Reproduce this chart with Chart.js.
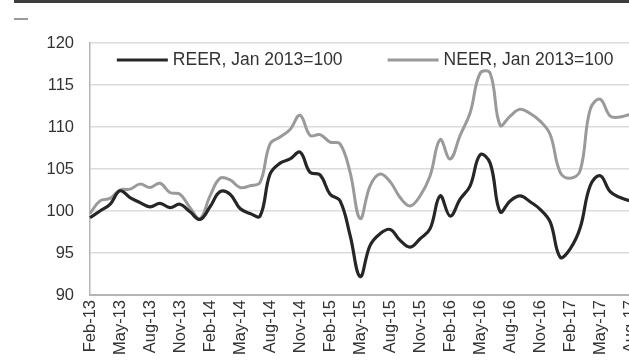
<!DOCTYPE html>
<html>
<head>
<meta charset="utf-8">
<script src="https://cdn.jsdelivr.net/npm/chart.js@4.4.1/dist/chart.umd.min.js"></script>
<style>
  html, body { margin: 0; padding: 0; background: #fff; overflow: hidden; }
  #wrap { position: relative; width: 629px; height: 363px; overflow: hidden; }
  #topRule { position: absolute; left: 14px; top: 0; width: 615px; height: 3px; background: #3d3d3d; }
  #dash { position: absolute; left: 14px; top: 18px; width: 14px; height: 2px; background: #9a9a9a; }
  canvas { position: absolute; left: 0; top: 0; }
</style>
</head>
<body>
<div id="wrap">
  <canvas id="eerChart" width="665" height="363"></canvas>
  <div id="topRule"></div>
  <div id="dash"></div>
</div>
<script>
const months = [
  "Feb-13", "Mar-13", "Apr-13", "May-13", "Jun-13", "Jul-13", "Aug-13", "Sep-13", "Oct-13", "Nov-13", "Dec-13",
  "Jan-14", "Feb-14", "Mar-14", "Apr-14", "May-14", "Jun-14", "Jul-14", "Aug-14", "Sep-14", "Oct-14", "Nov-14", "Dec-14",
  "Jan-15", "Feb-15", "Mar-15", "Apr-15", "May-15", "Jun-15", "Jul-15", "Aug-15", "Sep-15", "Oct-15", "Nov-15", "Dec-15",
  "Jan-16", "Feb-16", "Mar-16", "Apr-16", "May-16", "Jun-16", "Jul-16", "Aug-16", "Sep-16", "Oct-16", "Nov-16", "Dec-16",
  "Jan-17", "Feb-17", "Mar-17", "Apr-17", "May-17", "Jun-17", "Jul-17", "Aug-17", "Sep-17"
];

// real effective exchange rate, Jan 2013 = 100
const reer = [
  99.2, 100.0, 100.8, 102.4, 101.6, 101.0, 100.5, 100.9, 100.4, 100.8, 99.9, 99.0,
  100.5, 102.3, 102.0, 100.3, 99.7, 99.4, 104.4, 105.7, 106.2, 107.0, 104.6, 104.3,
  102.0, 101.2, 97.1, 92.2, 95.9, 97.3, 97.8, 96.5, 95.7, 96.7, 97.9, 101.8,
  99.4, 101.4, 103.0, 106.7, 105.7, 99.9, 101.2, 101.8, 101.1, 100.2, 98.7, 94.5,
  95.5, 98.0, 103.0, 104.2, 102.3, 101.6, 101.2, 101.0
];

// nominal effective exchange rate, Jan 2013 = 100
const neer = [
  99.7, 101.2, 101.5, 102.5, 102.6, 103.2, 102.8, 103.3, 102.2, 102.0, 100.4, 99.1,
  101.8, 103.9, 103.7, 102.8, 103.0, 103.4, 108.0, 108.8, 109.7, 111.4, 109.0, 109.1,
  108.2, 108.0, 104.6, 99.1, 103.0, 104.4, 103.5, 101.6, 100.6, 101.8, 104.2, 108.5,
  106.2, 109.0, 111.7, 116.4, 116.4, 110.2, 111.3, 112.1, 111.6, 110.7, 109.1, 104.6,
  103.9, 104.8, 112.1, 113.3, 111.3, 111.2, 111.5, 111.6
];

const yTicks = [90, 95, 100, 105, 110, 115, 120];

const textColor = "#333333";
const fontFamily = "'Liberation Sans', Arial, sans-serif";

// legend drawn inside the plot area, one row, centred on the plot
const legendInside = {
  id: "legendInside",
  afterDatasetsDraw(chart) {
    const { ctx, chartArea } = chart;
    const sampleLen = 51;
    const sampleGap = 5;
    const itemGap = 45;
    ctx.save();
    ctx.font = "17.5px " + fontFamily;
    ctx.textBaseline = "middle";
    const items = chart.data.datasets.map((ds) => ({
      text: ds.label,
      color: ds.borderColor,
      lineWidth: ds.borderWidth,
      textW: ctx.measureText(ds.label).width,
    }));
    let total = itemGap * (items.length - 1);
    items.forEach((it) => (total += sampleLen + sampleGap + it.textW));
    let x = (chartArea.left + chartArea.right) / 2 - total / 2;
    const y = chartArea.top + 17;
    items.forEach((it) => {
      ctx.strokeStyle = it.color;
      ctx.lineWidth = it.lineWidth;
      ctx.beginPath();
      ctx.moveTo(x, y);
      ctx.lineTo(x + sampleLen, y);
      ctx.stroke();
      ctx.fillStyle = textColor;
      ctx.fillText(it.text, x + sampleLen + sampleGap, y);
      x += sampleLen + sampleGap + it.textW + itemGap;
    });
    ctx.restore();
  },
};

const ctx = document.getElementById("eerChart").getContext("2d");

new Chart(ctx, {
  type: "line",
  data: {
    labels: months,
    datasets: [
      {
        label: "REER, Jan 2013=100",
        data: reer,
        borderColor: "#262626",
        backgroundColor: "#262626",
        borderWidth: 3.2,
        pointRadius: 0,
        tension: 0.4,
        fill: false,
      },
      {
        label: "NEER, Jan 2013=100",
        data: neer,
        borderColor: "#9a9a9a",
        backgroundColor: "#9a9a9a",
        borderWidth: 3,
        pointRadius: 0,
        tension: 0.4,
        fill: false,
      },
    ],
  },
  options: {
    responsive: false,
    animation: false,
    layout: { padding: { top: 43, right: 10, bottom: 0, left: 0 } },
    plugins: {
      legend: { display: false },
      tooltip: { enabled: false },
    },
    scales: {
      x: {
        type: "category",
        offset: false,
        grid: { display: false, drawTicks: false },
        border: { display: true, color: "#b5b5b5", width: 2 },
        ticks: {
          autoSkip: false,
          maxRotation: 90,
          minRotation: 90,
          padding: 5,
          color: textColor,
          font: { family: fontFamily, size: 16.5 },
          callback: function (value, index) {
            return index % 3 === 0 ? months[index] : "";
          },
        },
        afterFit(axis) {
          axis.height = 68;
        },
      },
      y: {
        min: 90,
        max: 120,
        afterBuildTicks(axis) {
          axis.ticks = yTicks.map((v) => ({ value: v }));
        },
        grid: { color: "#dcdcdc", lineWidth: 1.5, drawTicks: false },
        border: { display: true, color: "#b5b5b5", width: 1.5 },
        ticks: {
          padding: 16,
          color: textColor,
          font: { family: fontFamily, size: 16.5 },
        },
        afterFit(axis) {
          axis.width = 90;
        },
      },
    },
  },
  plugins: [legendInside],
});
</script>
</body>
</html>
